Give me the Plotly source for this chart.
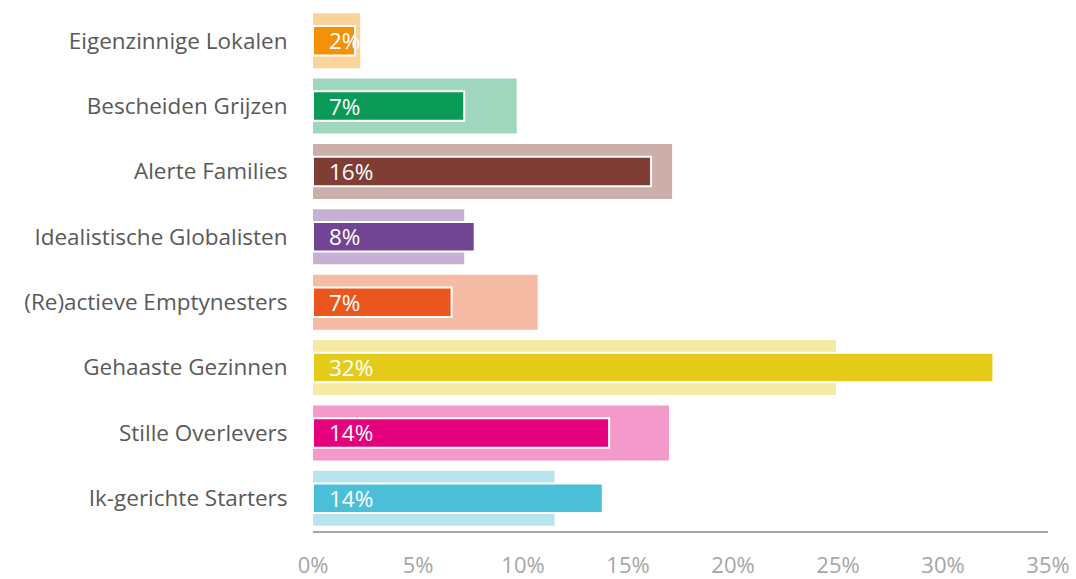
import plotly.graph_objects as go

categories = ["Eigenzinnige Lokalen", "Bescheiden Grijzen", "Alerte Families",
              "Idealistische Globalisten", "(Re)actieve Emptynesters",
              "Gehaaste Gezinnen", "Stille Overlevers", "Ik-gerichte Starters"]
background_values = [2.25, 9.7, 17.1, 7.2, 10.7, 24.9, 16.95, 11.5]
foreground_values = [2.0, 7.2, 16.1, 7.7, 6.6, 32.4, 14.1, 13.8]
labels = ["2%", "7%", "16%", "8%", "7%", "32%", "14%", "14%"]
fg_colors = ["#F39208", "#0A9A58", "#7F3D33", "#714593", "#EA561D", "#E4CB1A", "#E5007E", "#4BBFD7"]
bg_colors = ["#FBD49C", "#A0D6BE", "#CCAFAA", "#C6B1D5", "#F6BBA5", "#F4EAA3", "#F49ACB", "#B8E4EF"]
tick_vals = [0, 5, 10, 15, 20, 25, 30, 35]
tick_text = ["0%", "5%", "10%", "15%", "20%", "25%", "30%", "35%"]

FONT = "Open Sans"
FS = 22.5

fig = go.Figure()
fig.add_trace(go.Bar(y=categories, x=background_values, orientation="h",
                     marker=dict(color=bg_colors, line=dict(width=0)),
                     width=0.84, hoverinfo="skip", showlegend=False))
fig.add_trace(go.Bar(y=categories, x=foreground_values, orientation="h",
                     marker=dict(color=fg_colors, line=dict(color="white", width=2)),
                     width=0.45, hoverinfo="skip", showlegend=False))

for cat, lab in zip(categories, labels):
    fig.add_annotation(x=0, y=cat, xref="x", yref="y", text=lab, showarrow=False,
                       xanchor="left", yanchor="middle", xshift=14,
                       font=dict(family=FONT, size=FS, color="white"))

fig.update_layout(
    width=1076, height=579,
    margin=dict(l=313, r=28, t=8, b=48),
    barmode="overlay",
    plot_bgcolor="white", paper_bgcolor="white",
    xaxis=dict(range=[0, 35], tickvals=tick_vals, ticktext=tick_text,
               automargin=False,
               showgrid=False, zeroline=False, showline=True,
               linecolor="#A6A6A6", linewidth=2,
               ticks="outside", ticklen=14, tickcolor="rgba(0,0,0,0)",
               tickfont=dict(family=FONT, size=22, color="#A6A6A6")),
    yaxis=dict(categoryorder="array", categoryarray=categories[::-1],
               automargin=False,
               range=[-0.5, 7.5], showgrid=False, zeroline=False, showline=False,
               ticks="outside", ticklen=20, tickcolor="rgba(0,0,0,0)",
               tickfont=dict(family=FONT, size=FS, color="#595959")),
)

fig.write_html("out.html")
